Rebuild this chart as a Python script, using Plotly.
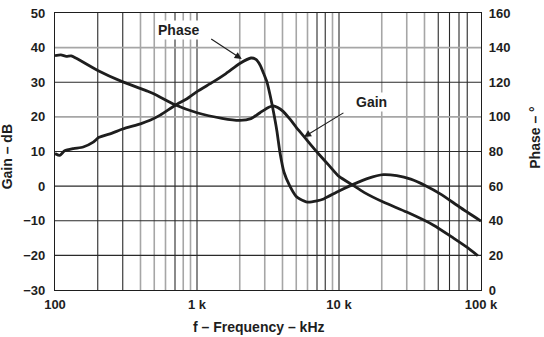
import plotly.graph_objects as go

# Frequency response: gain (dB, left axis) and phase (degrees, right axis)
gain_freq_hz = [100, 110, 120, 130, 140, 200, 300, 450, 500, 700, 1000, 1500, 2000,
                2400, 2780, 3200, 3450, 3700, 4040, 4500, 5000, 5600, 6400, 7300,
                8500, 10000, 12600, 15000, 20500, 30000, 46000, 64000, 80000, 95000]
gain_db = [37.7, 37.9, 37.5, 37.6, 37.0, 33.4, 30.1, 27.4, 26.6, 23.5, 21.2, 19.6, 19.0,
           19.5, 21.2, 22.8, 23.2, 22.7, 21.6, 19.4, 17.0, 14.6, 11.7, 9.0,
           6.0, 2.8, 0.2, -1.8, -4.6, -7.5, -11.2, -15.0, -17.7, -20.1]

phase_freq_hz = [100, 108, 117, 135, 158, 186, 204, 250, 300, 400, 467, 550, 700, 850,
                 1000, 1300, 1600, 2000, 2400, 2600, 2780, 2950, 3100, 3270, 3450,
                 3650, 3850, 4100, 4500, 5000, 5300, 6000, 7000, 7800, 10000, 12600,
                 16000, 20500, 25500, 32000, 41000, 52000, 71000, 100000]
phase_deg = [78.8, 77.8, 80.4, 81.7, 82.6, 85.4, 88.2, 90.5, 93.0, 96.0, 98.0, 101.0,
             106.6, 110.5, 114.6, 120.2, 125.0, 130.8, 134.0, 133.2, 130.0, 125.0,
             120.5, 112.6, 103.2, 92.0, 78.8, 68.0, 60.1, 54.0, 52.6, 50.8, 51.5,
             52.6, 57.2, 61.0, 64.5, 66.6, 66.0, 64.0, 60.1, 55.4, 47.8, 39.8]

x_tick_vals = [100, 1000, 10000, 100000]
x_tick_text = ["100", "1 k", "10 k", "100 k"]
gain_ticks = [-30, -20, -10, 0, 10, 20, 30, 40, 50]
phase_ticks = [0, 20, 40, 60, 80, 100, 120, 140, 160]

# Grid lines, dark and light
dark_vgrid = [200, 300, 700, 1000, 7000, 8000, 10000, 50000, 60000, 70000, 80000]
light_vgrid = [400, 500, 600, 800, 900, 2000, 3000, 4000, 5000, 6000, 9000,
               20000, 30000, 40000]
dark_hgrid = [-20, -10, 0, 10, 30]
light_hgrid = [20, 40]

INK = "#1e1e1e"
DARK_GRID = "#2a2a2a"
LIGHT_GRID = "#a6a6a6"
FONT = "Liberation Sans"

fig = go.Figure()

fig.add_trace(go.Scatter(x=gain_freq_hz, y=gain_db, mode="lines", name="Gain",
                         line=dict(color=INK, width=2.8, shape="spline", smoothing=0.6),
                         yaxis="y"))
fig.add_trace(go.Scatter(x=phase_freq_hz, y=phase_deg, mode="lines", name="Phase",
                         line=dict(color=INK, width=2.8, shape="spline", smoothing=0.6),
                         yaxis="y2"))

shapes = []
for f in light_vgrid:
    shapes.append(dict(type="line", xref="x", yref="paper", x0=f, x1=f, y0=0, y1=1,
                       line=dict(color=LIGHT_GRID, width=1.6), layer="below"))
for f in dark_vgrid:
    shapes.append(dict(type="line", xref="x", yref="paper", x0=f, x1=f, y0=0, y1=1,
                       line=dict(color=DARK_GRID, width=1.1), layer="below"))
for g in light_hgrid:
    shapes.append(dict(type="line", xref="paper", yref="y", x0=0, x1=1, y0=g, y1=g,
                       line=dict(color=LIGHT_GRID, width=1.6), layer="below"))
for g in dark_hgrid:
    shapes.append(dict(type="line", xref="paper", yref="y", x0=0, x1=1, y0=g, y1=g,
                       line=dict(color=DARK_GRID, width=1.1), layer="below"))

label_font = dict(family=FONT, size=14, color=INK)
annotations = [
    # curve labels
    dict(x=2.87, y=45.2, xref="x", yref="y", text="<b>Phase</b>", showarrow=False,
         font=label_font, bgcolor="white", borderpad=1),
    dict(x=4.23, y=24.4, xref="x", yref="y", text="<b>Gain</b>", showarrow=False,
         font=label_font, bgcolor="white", borderpad=1),
    # arrows pointing to the curves
    dict(x=3.315, y=36.7, xref="x", yref="y", text="", showarrow=True,
         ax=-32, ay=-21, arrowhead=2, arrowsize=1.3, arrowwidth=1.1, arrowcolor=INK),
    dict(x=3.753, y=14.2, xref="x", yref="y", text="", showarrow=True,
         ax=41, ay=-25, arrowhead=2, arrowsize=1.3, arrowwidth=1.1, arrowcolor=INK),
    # axis titles
    dict(x=-0.112, y=0.48, xref="paper", yref="paper", text="<b>Gain – dB</b>",
         textangle=-90, showarrow=False, font=label_font,
         xanchor="center", yanchor="middle"),
    dict(x=1.127, y=0.55, xref="paper", yref="paper", text="<b>Phase – °</b>",
         textangle=-90, showarrow=False, font=label_font,
         xanchor="center", yanchor="middle"),
    dict(x=0.479, y=-0.134, xref="paper", yref="paper", text="<b>f – Frequency – kHz</b>",
         showarrow=False, font=label_font, xanchor="center", yanchor="middle"),
]

tick_font = dict(family=FONT, size=13, color=INK, weight="bold")

fig.update_layout(
    width=544, height=337,
    margin=dict(l=55, r=63, t=6, b=47),
    paper_bgcolor="white", plot_bgcolor="white",
    showlegend=False,
    shapes=shapes,
    annotations=annotations,
    xaxis=dict(type="log", range=[2, 5], tickvals=x_tick_vals, ticktext=x_tick_text,
               showgrid=False, zeroline=False, showline=True, linecolor=INK,
               linewidth=1.2, mirror=True, ticks="", tickfont=tick_font,
               ticklabelstandoff=2, ticklabeloverflow="allow"),
    yaxis=dict(range=[-30, 50], tickvals=gain_ticks, showgrid=False, zeroline=False,
               showline=True, linecolor=INK, linewidth=1.2, ticks="",
               tickfont=tick_font, ticklabelstandoff=6, ticklabeloverflow="allow"),
    yaxis2=dict(range=[0, 160], tickvals=phase_ticks, overlaying="y", side="right",
                showgrid=False, zeroline=False, showline=True, linecolor=INK,
                linewidth=1.2, ticks="", tickfont=tick_font, ticklabelstandoff=4,
                ticklabeloverflow="allow"),
)

fig.write_html("out.html")
